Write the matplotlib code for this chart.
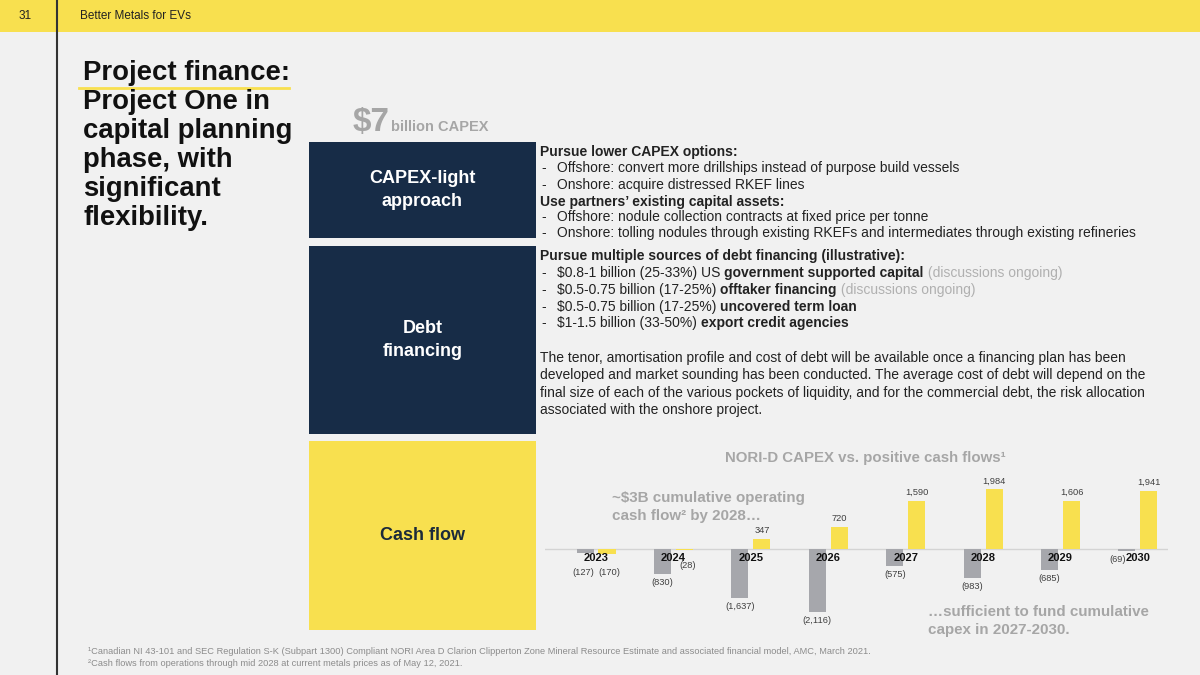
import numpy as np
import matplotlib
matplotlib.use("Agg")
import matplotlib.pyplot as plt
from matplotlib.patches import Rectangle

plt.rcParams['font.family'] = ['Liberation Sans', 'DejaVu Sans']

# chart data (US$ millions)
years = ['2023', '2024', '2025', '2026', '2027', '2028', '2029', '2030']
capex = [-127, -830, -1637, -2116, -575, -983, -685, -69]
cash_flow = [-170, -28, 347, 720, 1590, 1984, 1606, 1941]

title_lines = ['Project finance:', 'Project One in', 'capital planning',
               'phase, with', 'significant', 'flexibility.']

YELLOW = '#f8e04f'
NAVY = '#172c47'
BAR_GREY = '#a6a7ac'
LIGHT = '#a6a6a6'
BG = '#f1f1f1'

fig = plt.figure(figsize=(12, 6.75), dpi=100)
fig.patch.set_facecolor(BG)
bg = fig.add_axes([0, 0, 1, 1])
bg.set_xlim(0, 1200)
bg.set_ylim(675, 0)
bg.axis('off')
bg.set_zorder(0)

renderer = fig.canvas.get_renderer()


def text_width(s, **kw):
    # width incl. spaces, in pixels
    a = bg.text(0, 0, 'x' + s + 'x', **kw)
    b = bg.text(0, 0, 'xx', **kw)
    w = a.get_window_extent(renderer).width - b.get_window_extent(renderer).width
    a.remove()
    b.remove()
    return w


def runs(x, y, parts, size=10):
    for s, weight, color in parts:
        bg.text(x, y, s, fontsize=size, fontweight=weight, color=color,
                ha='left', va='center')
        x += text_width(s, fontsize=size, fontweight=weight)


# header band
bg.add_patch(Rectangle((0, 0), 1200, 32, color=YELLOW, lw=0))
bg.plot([57, 57], [0, 675], color='#333333', lw=1.5)
bg.text(25, 16, '31', fontsize=8.5, ha='center', va='center', color='#222222')
bg.text(80, 16, 'Better Metals for EVs', fontsize=8.5, ha='left', va='center', color='#222222')

# title
for i, line in enumerate(title_lines):
    bg.text(83, 73 + i * 29, line, fontsize=19.8, fontweight='bold',
            ha='left', va='center', color='#111111')
bg.plot([79, 289], [87.5, 87.5], color=YELLOW, lw=2)

# $7 billion CAPEX
bg.text(353, 131, '$7', fontsize=24, fontweight='bold', color=LIGHT, ha='left', va='baseline')
bg.text(391, 131, 'billion CAPEX', fontsize=10.5, fontweight='bold', color=LIGHT, ha='left', va='baseline')

# left boxes
boxes = [(142, 238, NAVY, 'CAPEX-light\napproach', 'white'),
         (246, 434, NAVY, 'Debt\nfinancing', 'white'),
         (441, 630, YELLOW, 'Cash flow', '#1b2a3a')]
for top, bot, col, label, tcol in boxes:
    bg.add_patch(Rectangle((309, top), 227, bot - top, color=col, lw=0))
    bg.text(422.5, (top + bot) / 2, label, fontsize=13, fontweight='bold',
            color=tcol, ha='center', va='center', linespacing=1.4)

# right text block
K = '#222222'
G = '#b0b0b0'
rows = [
    (152, 540, [('Pursue lower CAPEX options:', 'bold', K)]),
    (168, 557, [('Offshore: convert more drillships instead of purpose build vessels', 'normal', K)]),
    (185, 557, [('Onshore: acquire distressed RKEF lines', 'normal', K)]),
    (202, 540, [('Use partners\u2019 existing capital assets:', 'bold', K)]),
    (217, 557, [('Offshore: nodule collection contracts at fixed price per tonne', 'normal', K)]),
    (233, 557, [('Onshore: tolling nodules through existing RKEFs and intermediates through existing refineries', 'normal', K)]),
    (256, 540, [('Pursue multiple sources of debt financing (illustrative):', 'bold', K)]),
    (273, 557, [('$0.8-1 billion (25-33%) US ', 'normal', K), ('government supported capital', 'bold', K),
                (' (discussions ongoing)', 'normal', G)]),
    (290, 557, [('$0.5-0.75 billion (17-25%) ', 'normal', K), ('offtaker financing', 'bold', K),
                (' (discussions ongoing)', 'normal', G)]),
    (307, 557, [('$0.5-0.75 billion (17-25%) ', 'normal', K), ('uncovered term loan', 'bold', K)]),
    (323, 557, [('$1-1.5 billion (33-50%) ', 'normal', K), ('export credit agencies', 'bold', K)]),
]
for y, x, parts in rows:
    if x > 540:
        bg.text(541, y, '-', fontsize=10, ha='left', va='center', color=K)
    runs(x, y, parts)

para = ['The tenor, amortisation profile and cost of debt will be available once a financing plan has been',
        'developed and market sounding has been conducted. The average cost of debt will depend on the',
        'final size of each of the various pockets of liquidity, and for the commercial debt, the risk allocation',
        'associated with the onshore project.']
for i, line in enumerate(para):
    bg.text(540, 358 + i * 17.3, line, fontsize=10, ha='left', va='center', color=K)

# chart annotations
bg.text(865, 458, 'NORI-D CAPEX vs. positive cash flows\u00b9', fontsize=10.8, fontweight='bold',
        color=LIGHT, ha='center', va='center')
bg.text(612, 507, '~$3B cumulative operating\ncash flow\u00b2 by 2028\u2026', fontsize=10.9,
        fontweight='bold', color=LIGHT, ha='left', va='center', linespacing=1.3)
bg.text(928, 621, '\u2026sufficient to fund cumulative\ncapex in 2027-2030.', fontsize=10.9,
        fontweight='bold', color=LIGHT, ha='left', va='center', linespacing=1.3)

# footnotes
bg.text(88, 652, '\u00b9Canadian NI 43-101 and SEC Regulation S-K (Subpart 1300) Compliant NORI Area D Clarion '
        'Clipperton Zone Mineral Resource Estimate and associated financial model, AMC, March 2021.',
        fontsize=6.65, color='#8c8c8c', ha='left', va='center')
bg.text(88, 663, '\u00b2Cash flows from operations through mid 2028 at current metals prices as of May 12, 2021.',
        fontsize=6.65, color='#8c8c8c', ha='left', va='center')

# bar chart
ax = fig.add_axes([545 / 1200, 1 - 620 / 675, 623 / 1200, 150 / 675])
ax.set_zorder(2)
ax.patch.set_alpha(0)
ax.set_xlim(-0.659, 7.388)
ax.set_ylim(-2367, 2633)
ax.axis('off')

x = np.arange(len(years))
w = 0.22
off = 0.142
ax.axhline(0, color='#d4d4d4', lw=1, zorder=1)
ax.bar(x - off, capex, w, color=BAR_GREY, zorder=2)
ax.bar(x + off, cash_flow, w, color=YELLOW, zorder=2)

for i, yr in enumerate(years):
    ax.annotate(yr, (x[i], 0), xytext=(0, -9), textcoords='offset pixels',
                ha='center', va='center', fontsize=8, fontweight='bold', color='#111111', zorder=5)


def fmt(v):
    s = f'{abs(v):,}'
    return f'({s})' if v < 0 else s


# label nudges (pixels) for small bars that collide with the year labels
cap_nudge = {0: (-2, -11), 7: (-9, 0)}
cf_nudge = {0: (2, -10), 1: (3, -7)}
for series, xo, nudge in [(capex, -off, cap_nudge), (cash_flow, off, cf_nudge)]:
    for i, v in enumerate(series):
        dx, dy = nudge.get(i, (0, 0))
        if v < 0:
            ax.annotate(fmt(v), (x[i] + xo, v), xytext=(dx, -4 + dy), textcoords='offset pixels',
                        ha='center', va='top', fontsize=6.7, color='#404040', zorder=5)
        else:
            ax.annotate(fmt(v), (x[i] + xo, v), xytext=(dx, 4 + dy), textcoords='offset pixels',
                        ha='center', va='bottom', fontsize=6.7, color='#404040', zorder=5)

fig.savefig('out.png', dpi=100, facecolor=BG)
